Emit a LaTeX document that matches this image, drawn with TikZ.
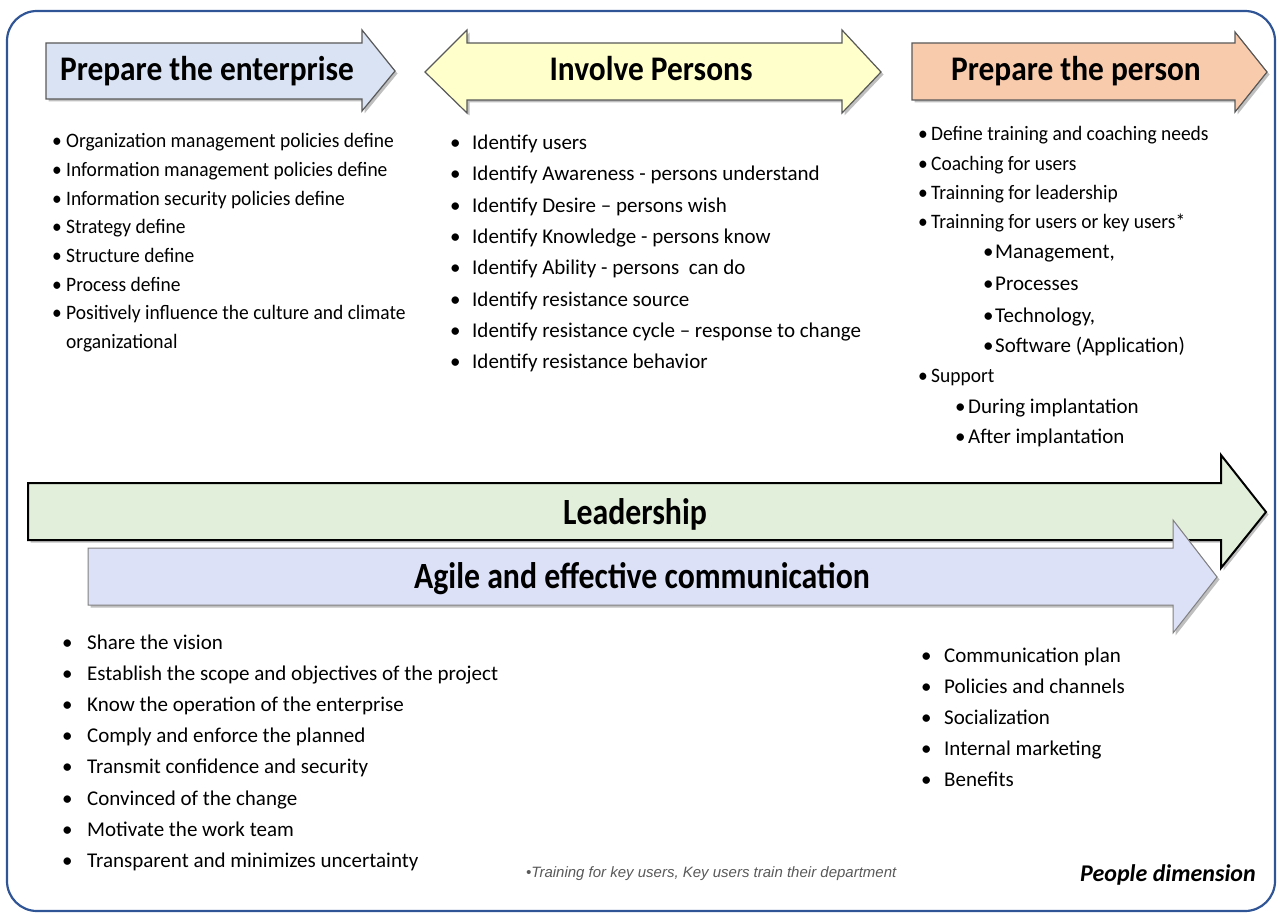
\documentclass[tikz,border=0pt]{standalone}
\usepackage{fontspec}
\setmainfont{Carlito}
\newfontfamily\titlefont[FakeStretch=0.91]{Carlito}
\newfontfamily\bandfont[FakeStretch=0.86]{Carlito}
\newfontfamily\narrowfont[FakeStretch=0.95]{Carlito}
\newfontfamily\notefont{Liberation Sans}

\definecolor{framec}{HTML}{2F5597}
\definecolor{enterc}{HTML}{DAE3F3}
\definecolor{involvec}{HTML}{FFFFCC}
\definecolor{personc}{HTML}{F8CBAD}
\definecolor{leadc}{HTML}{E2EFDA}
\definecolor{agilec}{HTML}{DDE1F8}

\tikzset{
  band/.style={draw=black!65, line width=1.2pt},
  shade/.style={fill=black!25, shift={(2.5,2.5)}},
  title/.style={anchor=base, inner sep=0, font=\titlefont\bfseries\fontsize{34.5}{40}\selectfont},
  bandtitle/.style={anchor=base, inner sep=0, font=\bandfont\bfseries\fontsize{37}{42}\selectfont},
  itemn/.style={anchor=base west, inner sep=0, font=\narrowfont\fontsize{20.5}{24}\selectfont},
  itemr/.style={anchor=base west, inner sep=0, font=\fontsize{21}{25}\selectfont},
}

\begin{document}
\begin{tikzpicture}[x=1pt, y=-1pt]
\useasboundingbox (0,0) rectangle (1277,915);
\draw[framec, line width=2.2pt, rounded corners=30pt] (7,11) rectangle (1275,911);

% top arrows
\fill[shade] (46,43) -- (362,43) -- (362,30) -- (395,71) -- (362,111) -- (362,99) -- (46,99) -- cycle;
\filldraw[band, fill=enterc] (46,43) -- (362,43) -- (362,30) -- (395,71) -- (362,111) -- (362,99) -- (46,99) -- cycle;
\fill[shade] (425,72) -- (467,30) -- (467,43) -- (842,43) -- (842,30) -- (881,72) -- (842,113) -- (842,100) -- (467,100) -- (467,113) -- cycle;
\filldraw[band, fill=involvec] (425,72) -- (467,30) -- (467,43) -- (842,43) -- (842,30) -- (881,72) -- (842,113) -- (842,100) -- (467,100) -- (467,113) -- cycle;
\fill[shade] (912,43) -- (1235,43) -- (1235,32) -- (1267,72) -- (1235,112) -- (1235,100) -- (912,100) -- cycle;
\filldraw[band, fill=personc] (912,43) -- (1235,43) -- (1235,32) -- (1267,72) -- (1235,112) -- (1235,100) -- (912,100) -- cycle;

\node[title] (enterprise) at (207,81) {Prepare the enterprise};
\node[title] (involve) at (651,81) {Involve Persons};
\node[title] (person) at (1076,81) {Prepare the person};

% long arrows
\fill[shade] (28,483) -- (1221,483) -- (1221,455) -- (1266,512) -- (1221,568) -- (1221,540) -- (28,540) -- cycle;
\filldraw[draw=black, line width=2pt, fill=leadc] (28,483) -- (1221,483) -- (1221,455) -- (1266,512) -- (1221,568) -- (1221,540) -- (28,540) -- cycle;
\fill[shade] (88,548) -- (1173,548) -- (1173,520) -- (1217,577) -- (1173,633) -- (1173,605) -- (88,605) -- cycle;
\filldraw[draw=black!50, line width=1pt, fill=agilec] (88,548) -- (1173,548) -- (1173,520) -- (1217,577) -- (1173,633) -- (1173,605) -- (88,605) -- cycle;

\node[bandtitle] (leadership) at (635,524) {Leadership};
\node[bandtitle] (agile) at (642,588) {Agile and effective communication};

% lists
\foreach \txt [count=\i] in {Organization management policies define, Information management policies define, Information security policies define, Strategy define, Structure define, Process define, Positively influence the culture and climate}
  \node[itemn] (ent\i) at (52,{148+28.6*(\i-1)}) {\makebox[14pt][l]{\textbullet}\txt};
\node[itemn] (ent8) at (66,{148+28.6*7}) {organizational};

\foreach \txt [count=\i] in {Identify users, Identify Awareness - persons understand, Identify Desire – persons wish, Identify Knowledge - persons know, Identify Ability - persons\ \ can do, Identify resistance source, Identify resistance cycle – response to change, Identify resistance behavior}
  \node[itemr] (inv\i) at (450,{149.5+31.3*(\i-1)}) {\makebox[22pt][l]{\textbullet}\txt};

\foreach \x/\y/\s/\txt [count=\i] in {918/141/itemn/Define training and coaching needs, 918/170/itemn/Coaching for users, 918/199/itemn/Trainning for leadership, 918/228/itemn/Trainning for users or key users*, 983/258/itemr/{Management,}, 983/290/itemr/Processes, 983/322/itemr/{Technology,}, 983/352/itemr/Software (Application), 918/382/itemn/Support, 955/413/itemr/During implantation, 955/443/itemr/After implantation}
  \node[\s] (per\i) at (\x,\y) {\makebox[\ifnum\x=983 12pt\else 13pt\fi][l]{\textbullet}\txt};

\foreach \txt [count=\i] in {Share the vision, Establish the scope and objectives of the project, Know the operation of the enterprise, Comply and enforce the planned, Transmit confidence and security, Convinced of the change, Motivate the work team, Transparent and minimizes uncertainty}
  \node[itemr] (lead\i) at (62,{649+31.2*(\i-1)}) {\makebox[25pt][l]{\textbullet}\txt};

\foreach \txt [count=\i] in {Communication plan, Policies and channels, Socialization, Internal marketing, Benefits}
  \node[itemr] (com\i) at (921,{662+31.2*(\i-1)}) {\makebox[23pt][l]{\textbullet}\txt};

\node[anchor=base west, inner sep=0, text=black!65, font=\notefont\itshape\fontsize{15}{18}\selectfont] (note) at (526,877) {\textbullet Training for key users, Key users train their department};
\node[anchor=base east, inner sep=0, font=\bfseries\itshape\fontsize{24}{28}\selectfont] (dimension) at (1256,881) {People dimension};
\end{tikzpicture}
\end{document}
